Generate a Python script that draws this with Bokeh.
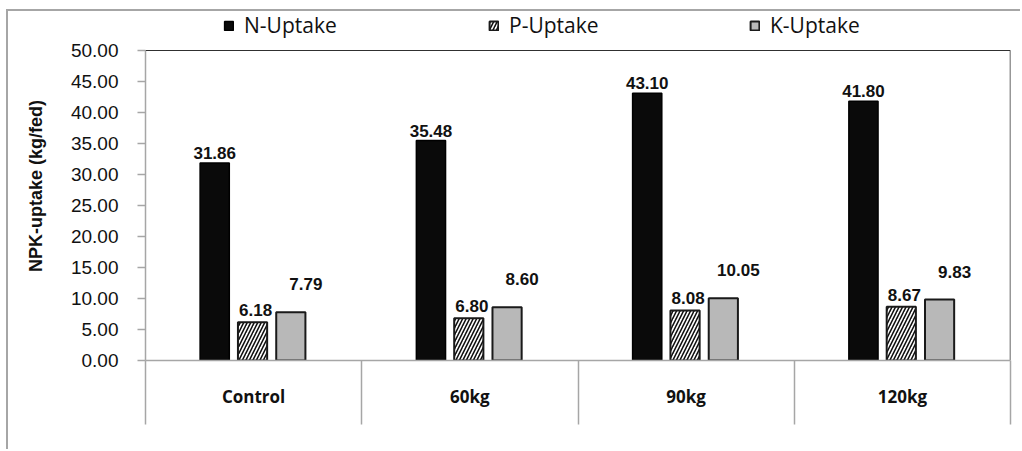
from bokeh.plotting import figure
from bokeh.models import (ColumnDataSource, FixedTicker, Range1d, Legend, LegendItem,
                          CustomJSTickFormatter, NumeralTickFormatter, Span)
from bokeh.transform import dodge
from bokeh.core.properties import value
from bokeh.embed import file_html
from bokeh.resources import INLINE

# ---- data ----
categories = ["Control", "60kg", "90kg", "120kg"]
n_uptake = [31.86, 35.48, 43.10, 41.80]
p_uptake = [6.18, 6.80, 8.08, 8.67]
k_uptake = [7.79, 8.60, 10.05, 9.83]
y_ticks = [0, 5, 10, 15, 20, 25, 30, 35, 40, 45, 50]
series_names = ["N-Uptake", "P-Uptake", "K-Uptake"]

centers = [i + 0.5 for i in range(len(categories))]
bounds = [i for i in range(len(categories) + 1)]
y_top = y_ticks[-1]
x_end = len(categories)

src = ColumnDataSource(dict(
    x=centers, n=n_uptake, p=p_uptake, k=k_uptake,
    nl=[f"{v:.2f}" for v in n_uptake],
    pl=[f"{v:.2f}" for v in p_uptake],
    kl=[f"{v:.2f}" for v in k_uptake],
))

FRAME_H = 349        # px, frame extends up to the outer border (room for legend)
AXIS_H = 310         # px used by 0..50
p = figure(width=1014, height=440, x_range=Range1d(0, x_end),
           y_range=Range1d(y_ticks[0], y_top * FRAME_H / AXIS_H),
           output_backend="svg", toolbar_location=None,
           min_border_left=137, min_border_right=12, min_border_top=0, min_border_bottom=91)
p.styles = {"margin-left": "6px", "margin-top": "9px",
            "border-left": "2px solid #a6a6a6", "border-top": "2px solid #a6a6a6"}

p.xgrid.visible = False
p.ygrid.visible = False
p.outline_line_color = None
p.background_fill_color = "white"
p.border_fill_color = "white"

GRAY = "#a6a6a6"

# x axis
xa = p.xaxis[0]
xa.ticker = FixedTicker(ticks=centers, minor_ticks=bounds)
xa.formatter = CustomJSTickFormatter(args=dict(cats=categories),
                                     code="return cats[Math.floor(tick)];")
xa.major_tick_out = 0
xa.major_tick_in = 0
xa.minor_tick_out = 64
xa.minor_tick_in = 0
xa.minor_tick_line_color = GRAY
xa.minor_tick_line_width = 1.5
xa.axis_line_color = GRAY
xa.axis_line_width = 1.5
xa.major_label_standoff = -40
xa.major_label_text_font = "Open Sans"
xa.major_label_text_font_style = "bold"
xa.major_label_text_font_size = "17px"
xa.major_label_text_color = "#111111"

# y axis
ya = p.yaxis[0]
ya.bounds = (y_ticks[0], y_top)
ya.ticker = FixedTicker(ticks=y_ticks, minor_ticks=[])
ya.formatter = NumeralTickFormatter(format="0.00")
ya.major_tick_out = 8
ya.major_tick_in = 0
ya.major_tick_line_color = GRAY
ya.major_tick_line_width = 1.5
ya.axis_line_color = GRAY
ya.axis_line_width = 1.5
ya.major_label_standoff = 19
ya.major_label_text_font = "Liberation Sans"
ya.major_label_text_font_size = "19px"
ya.major_label_text_color = "#111111"
ya.axis_label = "NPK-uptake (kg/fed)"
ya.axis_label_text_font = "Liberation Sans"
ya.axis_label_text_font_style = "bold"
ya.axis_label_text_font_size = "18px"
ya.axis_label_text_color = "#111111"
ya.axis_label_standoff = 22

# plot-area top and right borders
p.add_layout(Span(location=y_top, dimension="width", line_color="#303030", line_width=1.2))
p.segment(x0=[x_end], y0=[y_ticks[0]], x1=[x_end], y1=[y_top], line_color="#303030", line_width=1.5)

OFF = [-0.18, -0.005, 0.172]
W = 0.135

rn = p.vbar(x=dodge("x", OFF[0]), top="n", width=W, source=src,
            fill_color="#0a0a0a", line_color="#000000", line_width=1.5)
rp = p.vbar(x=dodge("x", OFF[1]), top="p", width=W, source=src,
            fill_color="white", hatch_pattern="/", hatch_color="#111111",
            hatch_scale=7, hatch_weight=1.6,
            line_color="#1a1a1a", line_width=2)
rk = p.vbar(x=dodge("x", OFF[2]), top="k", width=W, source=src,
            fill_color="#b8b8b8", line_color="#1a1a1a", line_width=2)

lab = dict(text_align="center", text_baseline="bottom",
           text_font=value("Liberation Sans"), text_font_style="bold",
           text_font_size="17px", text_color="#111111")
p.text(x=dodge("x", OFF[0]), y="n", text="nl", source=src, y_offset=-4, **lab)
p.text(x=dodge("x", OFF[1]), y="p", text="pl", source=src, y_offset=-6, x_offset=3, **lab)
p.text(x=dodge("x", OFF[2]), y="k", text="kl", source=src, y_offset=-22, x_offset=15, **lab)

for name, r, loc in zip(series_names, [rn, rp, rk], [(78, 321), (343, 321), (604, 321)]):
    leg = Legend(items=[LegendItem(label=name, renderers=[r])], location=loc,
                 orientation="horizontal", padding=0, margin=0,
                 border_line_color=None, background_fill_alpha=0,
                 glyph_width=11, glyph_height=11, label_standoff=10,
                 label_text_font="Open Sans", label_text_font_size="21px",
                 label_text_color="#111111")
    p.add_layout(leg)

open("out.html", "w").write(file_html(p, INLINE))
